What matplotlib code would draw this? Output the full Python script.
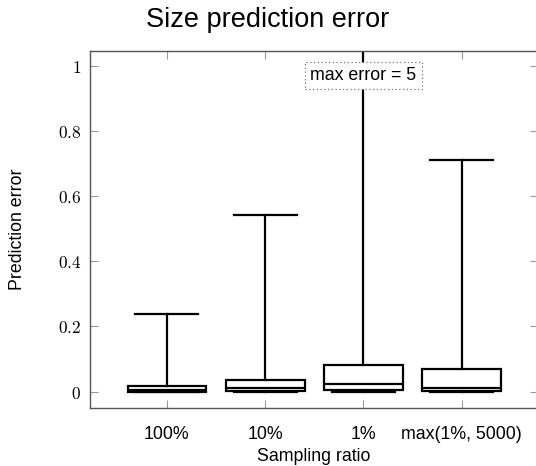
import matplotlib
matplotlib.use("Agg")
import matplotlib.pyplot as plt

# Prediction error summary per sampling ratio
categories = ["100%", "10%", "1%", "max(1%, 5000)"]
whislo = [0.0, 0.0, 0.0, 0.0]
q1 = [0.0005, 0.002, 0.006, 0.002]
median = [0.004, 0.011, 0.025, 0.012]
q3 = [0.0175, 0.036, 0.082, 0.070]
whishi = [0.237, 0.542, 5.0, 0.711]
yticks = [0, 0.2, 0.4, 0.6, 0.8, 1]

W, H, DPI = 536, 466, 100
fig = plt.figure(figsize=(W / DPI, H / DPI), dpi=DPI)
plt.rcParams["mathtext.fontset"] = "cm"
sans = ["Liberation Sans", "DejaVu Sans"]
fs = 12.8

left, right, top, bottom = 89.5, 537.5, 50.7, 408.3
ax = fig.add_axes([left / W, 1 - bottom / H, (right - left) / W, (bottom - top) / H])

positions = list(range(1, len(categories) + 1))
stats = [
    dict(whislo=lo, q1=a, med=m, q3=b, whishi=hi, fliers=[])
    for lo, a, m, b, hi in zip(whislo, q1, median, q3, whishi)
]
lw = 1.6
ax.bxp(
    stats,
    positions=positions,
    widths=0.8,
    capwidths=0.64,
    showfliers=False,
    patch_artist=True,
    boxprops=dict(facecolor="white", edgecolor="black", linewidth=lw),
    medianprops=dict(color="black", linewidth=lw),
    whiskerprops=dict(color="black", linewidth=lw),
    capprops=dict(color="black", linewidth=lw),
)

ax.set_xlim(0.213, 4.77)
ax.set_ylim(-0.051, 1.046)

ax.set_xticks(positions)
ax.set_xticklabels(categories, fontfamily=sans, fontsize=fs)
ax.set_yticks(yticks)
ax.set_yticklabels([f"${t:g}$" for t in yticks], fontsize=12.5)

for s in ax.spines.values():
    s.set_color("#555555")
    s.set_linewidth(1.0)
ax.tick_params(direction="in", length=6, width=0.8, color="#999999",
               top=True, right=True, pad=6)
ax.tick_params(axis="x", pad=13)

ax.set_xlabel("Sampling ratio", fontfamily=sans, fontsize=fs, labelpad=3)
ax.set_ylabel("Prediction error", fontfamily=sans, fontsize=fs, labelpad=23)
fig.text(0.5, 1 - 27 / H, "Size prediction error", ha="center", va="baseline",
         fontfamily=sans, fontsize=19.5)

ax.text(3, 0.97, f"max error = {whishi[2]:g}", ha="center", va="center",
        fontfamily=sans, fontsize=fs, zorder=5,
        bbox=dict(boxstyle="square,pad=0.3", facecolor="white",
                  edgecolor="#777777", linestyle=(0, (1, 2)), linewidth=0.9))

fig.savefig("out.png", dpi=DPI)
